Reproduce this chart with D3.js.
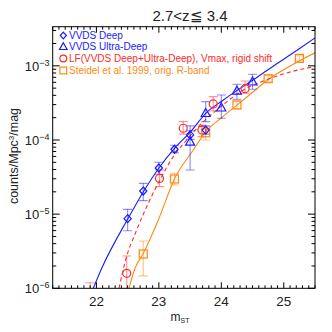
<!DOCTYPE html>
<html><head><meta charset="utf-8">
<script src="https://cdn.jsdelivr.net/npm/d3@7"></script>
<style>body{margin:0;background:#fff}svg{display:block}text{font-family:"Liberation Sans",Arial,sans-serif}</style>
</head><body><svg id="c" width="332" height="332"></svg>
<script>
// ---- data ----
const deepMag = [22.5, 22.75, 23.0, 23.25, 23.5, 23.75];
const deepPhi = [8.7e-6, 2.05e-5, 4.19e-5, 7.5e-5, 1.17e-4, 1.36e-4];
const deepLo  = [5.98e-6, 1.52e-5, 3.45e-5, 6.74e-5, 1.02e-4, 1.2e-4];
const deepHi  = [1.16e-5, 2.6e-5, 5.0e-5, 8.5e-5, 1.33e-4, 1.55e-4];

const udMag = [23.5, 23.75, 24.0, 24.25, 24.5];
const udPhi = [9.5e-5, 2.31e-4, 2.74e-4, 4.62e-4, 6.15e-4];
const udLo  = [3.94e-5, 1.77e-4, 1.96e-4, 3.54e-4, 4.83e-4];
const udHi  = [1.55e-4, 3.29e-4, 4.05e-4, 5.64e-4, 7.7e-4];

const lfMag = [21.9, 22.485, 23.01, 23.39, 23.69, 23.87, 24.38];
const lfPhi = [4e-7, 1.59e-6, 3.03e-5, 1.44e-4, 1.36e-4, 3.06e-4, 4.92e-4];
const lfLo  = [1e-7, 5e-7, 2.35e-5, 1.2e-4, 1.11e-4, 2.46e-4, 4.26e-4];
const lfHi  = [1.19e-6, 2.73e-6, 3.95e-5, 1.77e-4, 1.59e-4, 3.84e-4, 6.25e-4];

const stMag = [22.75, 23.25, 23.75, 24.25, 24.75, 25.25];
const stPhi = [2.9e-6, 2.98e-5, 1.25e-4, 2.97e-4, 6.71e-4, 1.26e-3];
const stLo  = [1.47e-6, 2.47e-5, 1.0e-4, 2.65e-4, 6.1e-4, 1.16e-3];
const stHi  = [4.35e-6, 3.56e-5, 1.51e-4, 3.35e-4, 7.35e-4, 1.37e-3];

// fitted curves
const blueCurveMag = [21.95, 22.085, 22.506, 22.762, 23.007, 23.258, 23.503, 23.755, 24.011, 24.251, 24.507, 24.748, 24.993, 25.26, 25.5];
const blueCurvePhi = [1.0e-6, 1.86e-6, 8.73e-6, 2.07e-5, 4.26e-5, 7.8e-5, 1.28e-4, 2.31e-4, 3.36e-4, 4.66e-4, 6.44e-4, 8.87e-4, 1.22e-3, 1.73e-3, 2.38e-3];
const orangeCurveMag = [22.522, 22.618, 22.751, 22.991, 23.254, 23.551, 23.75, 24.006, 24.256, 24.507, 24.759, 25.004, 25.26, 25.5];
const orangeCurvePhi = [1.0e-6, 1.86e-6, 2.96e-6, 8.34e-6, 3.04e-5, 7.33e-5, 1.29e-4, 2.01e-4, 2.97e-4, 4.44e-4, 6.65e-4, 8.9e-4, 1.18e-3, 1.50e-3];
const redCurveMag = [22.362, 22.458, 22.645, 22.805, 22.991, 23.231, 23.446, 23.659, 23.926, 24.331, 24.759, 25.132, 25.5];
const redCurvePhi = [1.0e-6, 2.26e-6, 6.11e-6, 1.26e-5, 2.63e-5, 5.96e-5, 1.0e-4, 1.59e-4, 2.54e-4, 4.58e-4, 6.65e-4, 8.39e-4, 9.75e-4];

const xTicks = [22, 23, 24, 25];
const yTicks = [1e-6, 1e-5, 1e-4, 1e-3];
const yTickExp = ["−6", "−5", "−4", "−3"];
const legendLabels = ["VVDS Deep", "VVDS Ultra-Deep", "LF(VVDS Deep+Ultra-Deep), Vmax, rigid shift", "Steidel et al. 1999, orig. R-band"];
const titleText = "2.7<z≦ 3.4";

// ---- layout ----
const L = 52.7, R = 315, T = 26.7, B = 288.3;
const BLUE = "#1a1aff", RED = "#ff2a2a", ORANGE = "#ff8a12";
const svg = d3.select("#c");
const x = d3.scaleLinear().domain([21.3, 25.5]).range([L, R]);
const y = d3.scaleLog().domain([1e-6, 3.37e-3]).range([B, T]);

svg.append("defs").append("clipPath").attr("id", "clip")
  .append("rect").attr("x", L).attr("y", T).attr("width", R - L).attr("height", B - T);
const plot = svg.append("g").attr("clip-path", "url(#clip)");

// curves
const line = d3.line().curve(d3.curveMonotoneX).x(d => x(d[0])).y(d => y(d[1]));
function curve(ms, ps, color, dash) {
  plot.append("path").datum(ms.map((m, i) => [m, ps[i]]))
    .attr("d", line).attr("fill", "none").attr("stroke", color).attr("stroke-width", 1.1)
    .attr("stroke-dasharray", dash || null);
}
curve(blueCurveMag, blueCurvePhi, BLUE);
curve(orangeCurveMag, orangeCurvePhi, ORANGE);
curve(redCurveMag, redCurvePhi, RED, "4,3");

// error bars
function errs(ms, lo, hi, color) {
  const g = plot.append("g").attr("stroke", color).attr("stroke-opacity", 0.5).attr("stroke-width", 1.1);
  ms.forEach((m, i) => {
    const cx = x(m), y1 = y(lo[i]), y2 = y(hi[i]);
    g.append("line").attr("x1", cx).attr("x2", cx).attr("y1", y1).attr("y2", y2);
    g.append("line").attr("x1", cx - 4.5).attr("x2", cx + 4.5).attr("y1", y1).attr("y2", y1);
    g.append("line").attr("x1", cx - 4.5).attr("x2", cx + 4.5).attr("y1", y2).attr("y2", y2);
  });
}
errs(lfMag, lfLo, lfHi, RED);
errs(stMag, stLo, stHi, ORANGE);
errs(deepMag, deepLo, deepHi, BLUE);
errs(udMag, udLo, udHi, BLUE);

// symbols
function sym(g, type, cx, cy, color, s) {
  s = s || 1;
  let el;
  if (type === "diamond") el = g.append("path").attr("d", `M${cx},${cy-4*s}L${cx+3.6*s},${cy}L${cx},${cy+4*s}L${cx-3.6*s},${cy}Z`);
  else if (type === "triangle") el = g.append("path").attr("d", `M${cx},${cy-4.5*s}L${cx+4.5*s},${cy+3.5*s}L${cx-4.5*s},${cy+3.5*s}Z`);
  else if (type === "circle") el = g.append("circle").attr("cx", cx).attr("cy", cy).attr("r", 4*s);
  else el = g.append("rect").attr("x", cx - 4*s).attr("y", cy - 4*s).attr("width", 8*s).attr("height", 8*s);
  el.attr("fill", "none").attr("stroke", color).attr("stroke-width", 1.2);
}
function pts(ms, ps, type, color) {
  ms.forEach((m, i) => sym(plot, type, x(m), y(ps[i]), color));
}
pts(lfMag, lfPhi, "circle", RED);
pts(stMag, stPhi, "square", ORANGE);
pts(deepMag, deepPhi, "diamond", BLUE);
pts(udMag, udPhi, "triangle", BLUE);

// axes frame
const ax = svg.append("g").attr("stroke", "#000").attr("stroke-width", 1);
ax.append("rect").attr("x", L).attr("y", T).attr("width", R - L).attr("height", B - T).attr("fill", "none");
// x ticks
d3.range(213, 256).map(v => v / 10).forEach(v => {
  const major = Math.abs(v - Math.round(v)) < 1e-6;
  const len = major ? 6 : 3, px = x(v);
  ax.append("line").attr("x1", px).attr("x2", px).attr("y1", B).attr("y2", B - len);
  ax.append("line").attr("x1", px).attr("x2", px).attr("y1", T).attr("y2", T + len);
});
// y ticks
const yt = [];
for (let e = -6; e <= -3; e++) for (let k = 1; k <= 9; k++) { const v = k * Math.pow(10, e); if (v <= 3.37e-3) yt.push([v, k === 1]); }
yt.forEach(([v, major]) => {
  const len = major ? 7 : 3.5, py = y(v);
  ax.append("line").attr("x1", L).attr("x2", L + len).attr("y1", py).attr("y2", py);
  ax.append("line").attr("x1", R).attr("x2", R - len).attr("y1", py).attr("y2", py);
});

// tick labels
xTicks.forEach(v => {
  svg.append("text").attr("x", x(v)).attr("y", 306).attr("text-anchor", "middle")
    .attr("font-size", 13.5).attr("fill", "#222").text(v);
});
yTicks.forEach((v, i) => {
  const t = svg.append("text").attr("x", 49.5).attr("y", y(v) + 5).attr("text-anchor", "end")
    .attr("font-size", 13).attr("fill", "#222");
  t.append("tspan").text("10");
  t.append("tspan").attr("dy", -5).attr("font-size", 9).text(yTickExp[i]);
});

// axis titles
const xl = svg.append("text").attr("x", 180).attr("y", 321).attr("text-anchor", "middle").attr("font-size", 12).attr("fill", "#222");
xl.append("tspan").text("m");
xl.append("tspan").attr("dy", 2).attr("font-size", 7).text("ST");
const yl = svg.append("text").attr("transform", "translate(18,156) rotate(-90)").attr("text-anchor", "middle")
  .attr("font-size", 12.5).attr("fill", "#222");
yl.append("tspan").text("counts/Mpc");
yl.append("tspan").attr("dy", -4).attr("font-size", 8).text("3");
yl.append("tspan").attr("dy", 4).text("/mag");

// title
svg.append("text").attr("x", 190).attr("y", 20.5).attr("text-anchor", "middle")
  .attr("font-size", 15).attr("fill", "#222").text(titleText);

// legend
const legTypes = ["diamond", "triangle", "circle", "square"];
const legColors = [BLUE, BLUE, RED, ORANGE];
const legY = [39, 50, 62, 74];
legendLabels.forEach((lab, i) => {
  const g = svg.append("g");
  sym(g, legTypes[i], 63.3, legY[i] - 3.5, legColors[i], 0.85);
  svg.append("text").attr("x", 69).attr("y", legY[i]).attr("font-size", 10)
    .attr("fill", legColors[i]).text(lab);
});
</script></body></html>
